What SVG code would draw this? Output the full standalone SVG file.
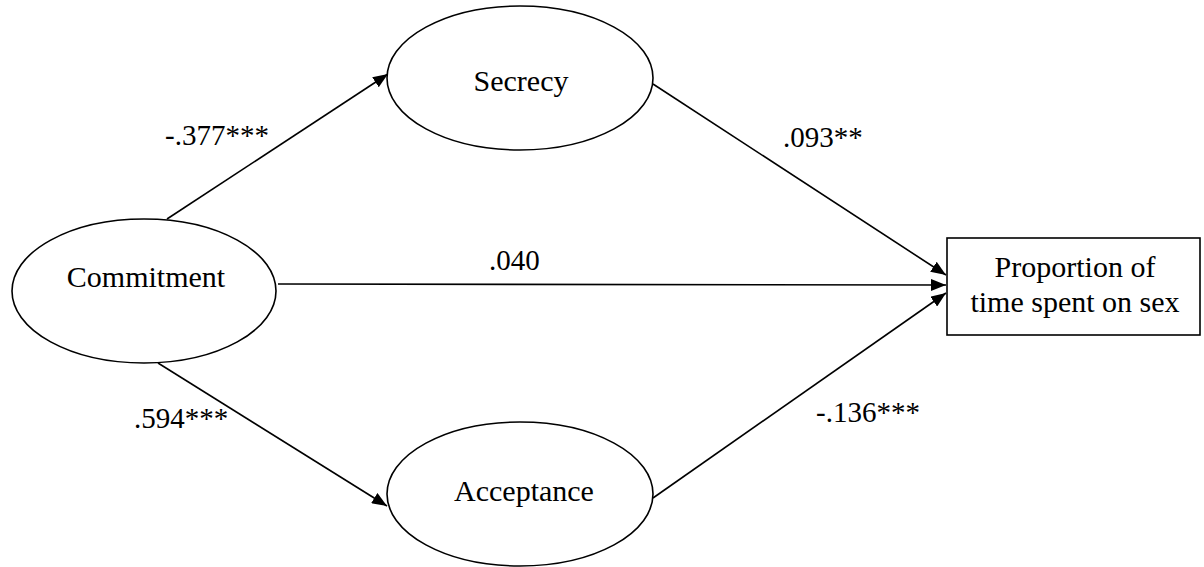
<svg xmlns="http://www.w3.org/2000/svg" width="1204" height="567" viewBox="0 0 1204 567">
  <defs>
    <style>
      .node { fill: #ffffff; stroke: #000000; stroke-width: 1.6; }
      .lbl { font-family: "Liberation Serif", "Times New Roman", serif; font-size: 30px; fill: #000000; text-anchor: middle; }
      .elbl { font-family: "Liberation Serif", "Times New Roman", serif; font-size: 29px; fill: #000000; }
      .edge { stroke: #000000; stroke-width: 1.6; fill: none; marker-end: url(#arr); }
    </style>
    <marker id="arr" markerUnits="userSpaceOnUse" markerWidth="16" markerHeight="12" refX="15" refY="6" orient="auto">
      <path d="M0,0 L15,6 L0,12 z" fill="#000000"/>
    </marker>
  </defs>
  <rect width="1204" height="567" fill="#ffffff"/>

  <g id="connectors">
    <line class="edge" x1="167" y1="219" x2="388" y2="74"/>
    <line class="edge" x1="158" y1="363" x2="387" y2="506"/>
    <line class="edge" x1="278" y1="284" x2="946" y2="285"/>
    <line class="edge" x1="653" y1="84" x2="946" y2="275"/>
    <line class="edge" x1="653" y1="498" x2="946" y2="293"/>
    <text class="elbl" x="165" y="145">-.377***</text>
    <text class="elbl" x="783" y="147">.093**</text>
    <text class="elbl" x="489" y="270">.040</text>
    <text class="elbl" x="134" y="428">.594***</text>
    <text class="elbl" x="816" y="422">-.136***</text>
  </g>

  <g id="commitment">
    <ellipse class="node" cx="144" cy="291" rx="132" ry="72"/>
    <text class="lbl" x="146" y="287">Commitment</text>
  </g>
  <g id="secrecy">
    <ellipse class="node" cx="520" cy="78" rx="133" ry="72"/>
    <text class="lbl" x="521" y="91">Secrecy</text>
  </g>
  <g id="acceptance">
    <ellipse class="node" cx="520" cy="494" rx="133" ry="72"/>
    <text class="lbl" x="524" y="501">Acceptance</text>
  </g>
  <g id="proportion">
    <rect class="node" x="947" y="238" width="253" height="97"/>
    <text class="lbl" x="1075" y="277">Proportion of</text>
    <text class="lbl" x="1075" y="312">time spent on sex</text>
  </g>
</svg>
